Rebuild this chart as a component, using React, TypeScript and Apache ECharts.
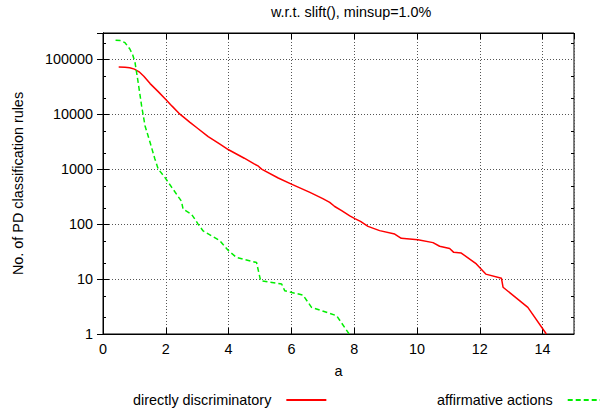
import React, { useEffect, useRef } from "react";
import * as echarts from "echarts";

const titleText = "w.r.t. slift(), minsup=1.0%";
const xName = "a";
const yName = "No. of PD classification rules";
const seriesNames = ["directly discriminatory", "affirmative actions"];

const directlyDiscriminatory: [number, number][] = [
  [0.5, 72000], [0.7, 71500], [0.85, 70000], [1.0, 66000], [1.15, 59000], [1.3, 49000],
  [1.5, 36000], [1.75, 26000], [2.0, 18500], [2.2, 14000], [2.45, 10000], [2.77, 7100],
  [3.0, 5600], [3.35, 3900], [3.7, 2900], [4.0, 2250], [4.5, 1580], [4.8, 1260],
  [4.95, 1130], [5.05, 1000], [5.58, 690], [6.0, 534], [6.59, 377], [7.0, 290],
  [7.22, 248], [7.38, 209], [7.6, 175], [7.86, 141], [8.02, 126], [8.2, 112], [8.44, 91],
  [8.81, 76], [9.29, 66], [9.5, 55], [10.03, 52], [10.51, 46], [10.72, 39.5], [11.04, 36],
  [11.17, 30.6], [11.41, 29.7], [11.89, 18.8], [12.19, 12.3], [12.69, 10.3], [12.74, 7.1],
  [13.53, 3.05], [14.12, 1],
];

const affirmativeActions: [number, number][] = [
  [0.4, 221000], [0.55, 218000], [0.7, 200000], [0.86, 152000], [0.95, 118000],
  [1.02, 87000], [1.12, 37700], [1.23, 14100], [1.34, 6100], [1.5, 3050], [1.65, 1550],
  [1.76, 1000], [1.97, 708], [2.19, 465], [2.5, 260], [2.55, 187], [2.82, 151],
  [3.03, 100], [3.19, 75], [3.72, 50], [3.99, 33], [4.25, 24.8], [4.89, 20], [5.02, 9.3],
  [5.69, 8.1], [5.79, 6.1], [6.37, 5.1], [6.64, 3.06], [7.44, 2.15], [7.84, 1],
];

const yMinorTicks = [2, 5, 20, 50, 200, 500, 2000, 5000, 20000, 50000, 200000];

const FONT = "Liberation Sans, Arial, Helvetica, sans-serif";
const FS = 14.4;

export default function App() {
  const ref = useRef<HTMLDivElement>(null);
  useEffect(() => {
    if (!ref.current) return;
    const chart = echarts.init(ref.current, undefined, { renderer: "svg" });
    const grid = { left: 103, right: 26, top: 33, bottom: 78 };
    const tickStyle = { show: true, inside: true, length: 6, lineStyle: { color: "#000", width: 1 } };
    const axisLine = { show: true, lineStyle: { color: "#000", width: 1 } };
    const split = { show: true, lineStyle: { color: "#555", width: 1, type: [1, 2] as any } };
    const yFmt = (v: number) => {
      const l = Math.log10(v);
      return Math.abs(l - Math.round(l)) < 1e-6 ? String(Math.round(v)) : "";
    };
    const legendBase = {
      top: 388,
      align: "right",
      itemWidth: 40,
      itemHeight: 14,
      itemStyle: { opacity: 0 },
      textStyle: { fontSize: FS, color: "#000", fontFamily: FONT, padding: [0, 10, 0, 0] },
    };
    chart.setOption({
      animation: false,
      textStyle: { fontFamily: FONT },
      title: {
        text: titleText,
        left: 266,
        top: 0,
        textStyle: { fontSize: FS, fontWeight: "normal", color: "#000", fontFamily: FONT },
      },
      legend: [
        { ...legendBase, data: [seriesNames[0]], left: 128 },
        { ...legendBase, data: [seriesNames[1]], left: 432 },
      ],
      grid: { ...grid, show: true, borderColor: "#000", borderWidth: 1, backgroundColor: "transparent" },
      xAxis: [
        {
          type: "value",
          min: 0,
          max: 15,
          interval: 2,
          position: "bottom",
          name: xName,
          nameLocation: "middle",
          nameGap: 30,
          nameTextStyle: { fontSize: FS, color: "#000", fontFamily: FONT },
          axisLine,
          axisTick: tickStyle,
          axisLabel: { fontSize: FS, color: "#000", margin: 8, showMaxLabel: false, fontFamily: FONT },
          splitLine: split,
        },
        {
          type: "value",
          min: 0,
          max: 15,
          interval: 2,
          position: "top",
          axisLine,
          axisTick: tickStyle,
          axisLabel: { show: false },
          splitLine: { show: false },
        },
      ],
      yAxis: [
        {
          type: "log",
          logBase: 10,
          min: 1,
          max: 300000,
          position: "left",
          name: yName,
          nameLocation: "middle",
          nameGap: 78,
          nameTextStyle: { fontSize: FS, color: "#000", fontFamily: FONT },
          axisLine,
          axisTick: tickStyle,
          axisLabel: { fontSize: FS, color: "#000", margin: 10, formatter: yFmt, fontFamily: FONT },
          splitLine: split,
        },
        {
          type: "log",
          logBase: 10,
          min: 1,
          max: 300000,
          position: "right",
          axisLine,
          axisTick: tickStyle,
          axisLabel: { show: false },
          splitLine: { show: false },
        },
      ],
      series: [
        {
          name: seriesNames[0],
          type: "line",
          data: directlyDiscriminatory,
          symbol: "none",
          showSymbol: false,
          lineStyle: { color: "#ff0000", width: 1.5 },
          itemStyle: { color: "#ff0000" },
          z: 5,
        },
        {
          name: seriesNames[1],
          type: "line",
          data: affirmativeActions,
          symbol: "none",
          showSymbol: false,
          lineStyle: { color: "#00ee00", width: 1.5, type: [5, 3] },
          itemStyle: { color: "#00ee00" },
          z: 5,
        },
        {
          name: "minorTicks",
          type: "custom",
          silent: true,
          data: yMinorTicks.map((v) => [0, v]),
          encode: { x: 0, y: 1 },
          renderItem: (params: any, api: any) => {
            const cs = params.coordSys;
            const p = api.coord([0, api.value(1)]);
            const y = Math.round(p[1]) + 0.5;
            return {
              type: "group",
              children: [
                { type: "line", shape: { x1: cs.x, y1: y, x2: cs.x + 3, y2: y }, style: { stroke: "#000", lineWidth: 1 } },
                { type: "line", shape: { x1: cs.x + cs.width - 3, y1: y, x2: cs.x + cs.width, y2: y }, style: { stroke: "#000", lineWidth: 1 } },
              ],
            };
          },
        },
      ],
    });
    return () => chart.dispose();
  }, []);
  return <div ref={ref} style={{ width: 600, height: 412, position: "absolute", left: 0, top: 0 }} />;
}
